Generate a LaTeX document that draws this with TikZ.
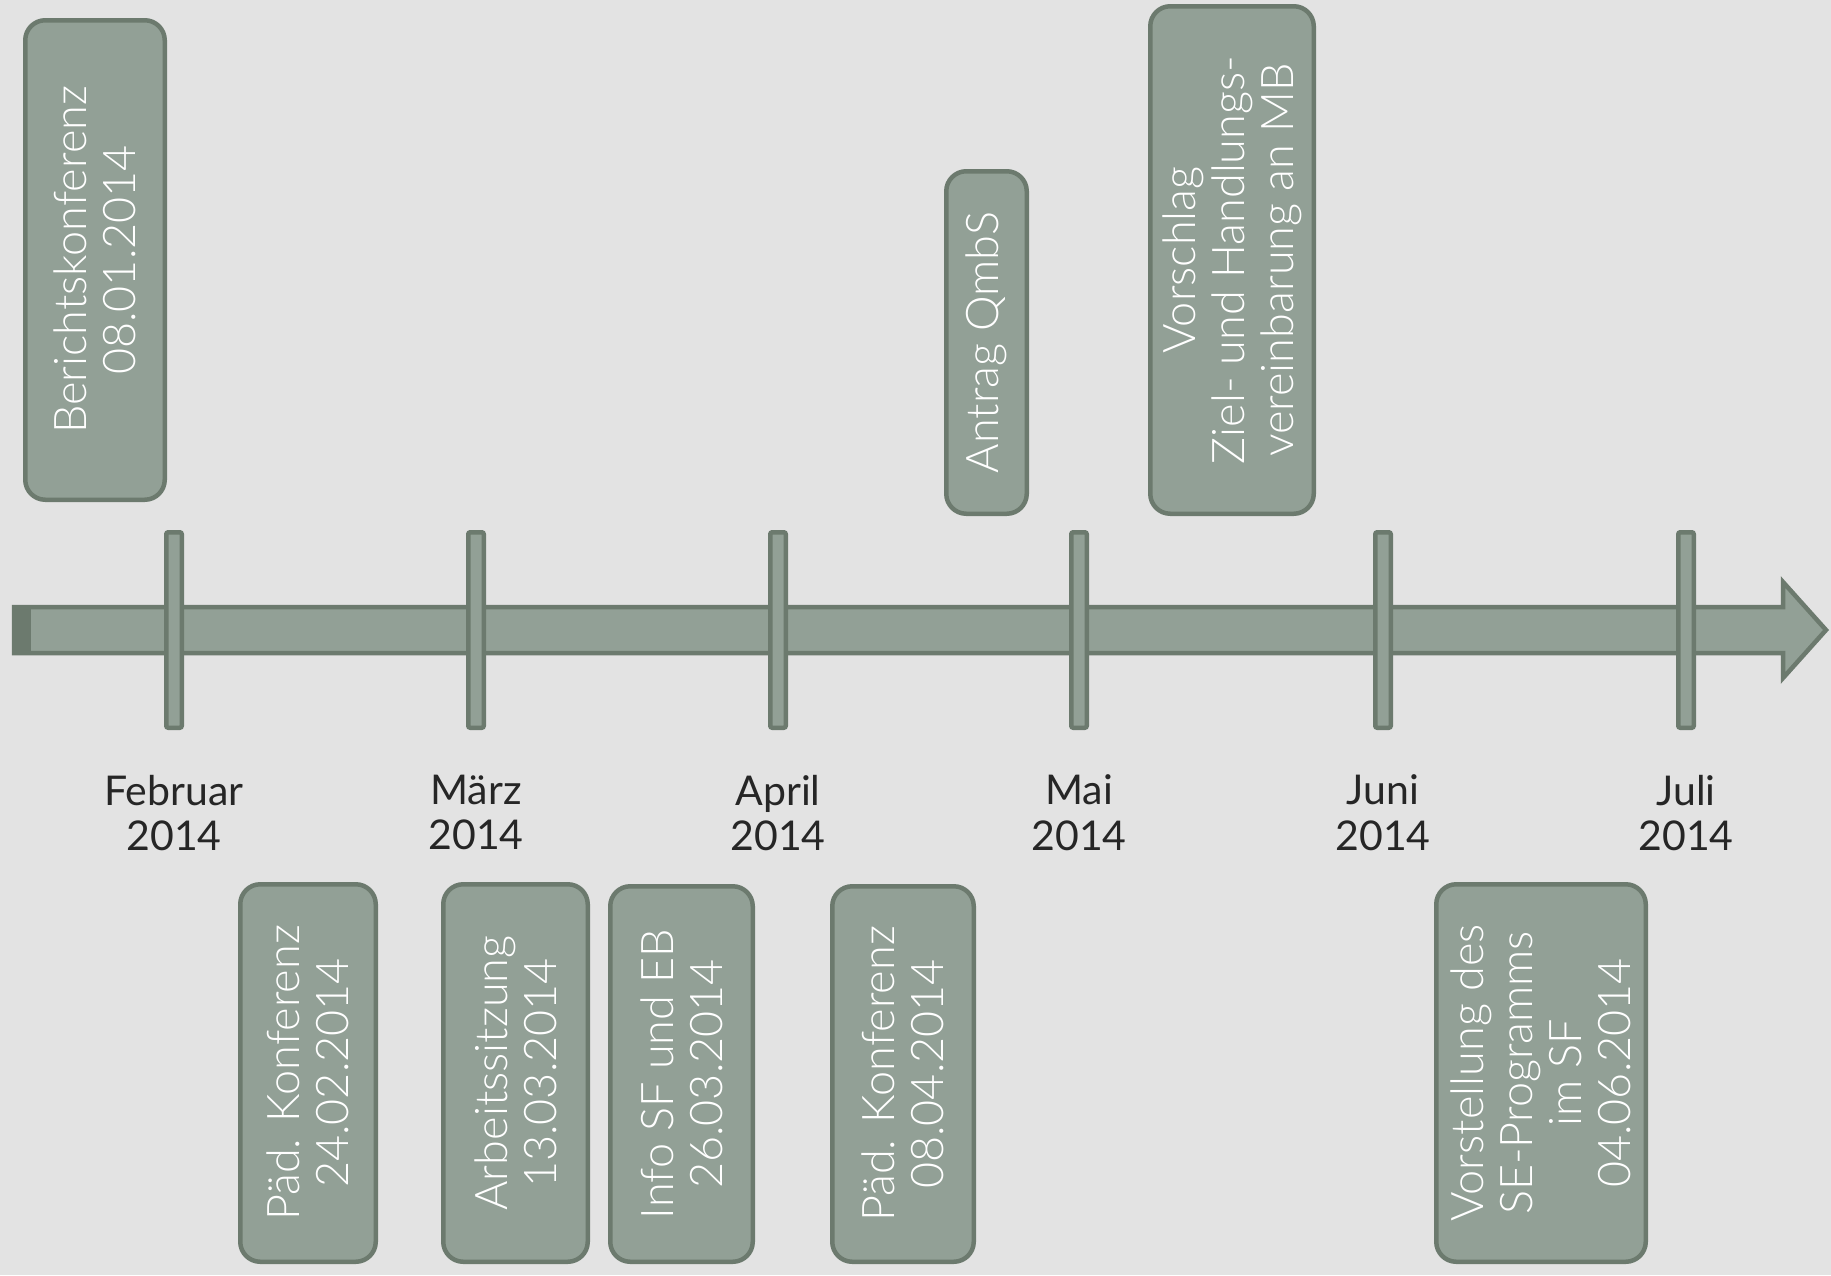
\documentclass[tikz,border=0pt]{standalone}
\usepackage{fontspec}
\setmainfont{Lato}
\newfontfamily\lightfont{Lato Light}
\usetikzlibrary{positioning}
\definecolor{boxfill}{RGB}{146,160,150}
\definecolor{boxline}{RGB}{108,122,110}
\definecolor{paper}{RGB}{227,227,227}

\begin{document}
\begin{tikzpicture}[
  x=0.5pt, y=-0.5pt,
  event/.style={draw=boxline, fill=boxfill, line width=2.25pt, rounded corners=10pt, rotate=90,
    align=center, text=white, inner sep=0pt, font=\lightfont\fontsize{22.5}{24.5}\selectfont},
  tick/.style={draw=boxline, fill=boxfill, line width=2.25pt, rounded corners=1pt,
    minimum width=7.75pt, minimum height=97.75pt, inner sep=0pt},
  month/.style={align=center, text=black!85, font=\fontsize{20.5}{22.75}\selectfont},
  node distance=19pt
]
\useasboundingbox[fill=paper] (0,0) rectangle (1831,1275);

% timeline arrow
\draw[draw=boxline, fill=boxfill, line width=2.25pt, line join=miter]
  (14,607) -- (1783,607) -- (1783,582) -- (1826,630) -- (1783,678) -- (1783,653) -- (14,653) -- cycle;
\fill[boxline] (12,605) rectangle (31,655);

% month ticks
\node[tick] (tfeb) at (174,630) {};
\node[tick] (tmar) at (476,630) {};
\node[tick] (tapr) at (778,630) {};
\node[tick] (tmay) at (1079,630) {};
\node[tick] (tjun) at (1383,630) {};
\node[tick] (tjul) at (1686,630) {};

\node[month, below=of tfeb] (mfeb) {Februar\\2014};
\node[month, below=of tmar] (mmar) {März\\2014};
\node[month, below=of tapr] (mapr) {April\\2014};
\node[month, below=of tmay] (mmay) {Mai\\2014};
\node[month, below=of tjun] (mjun) {Juni\\2014};
\node[month, below=of tjul] (mjul) {Juli\\2014};

% events above the line
\node[event, minimum width=239.75pt, minimum height=69.75pt] (bericht) at (95,260)
  {Berichtskonferenz\\08.01.2014};
\node[event, minimum width=171.25pt, minimum height=40.25pt] (qmbs) at (986.5,342.5)
  {Antrag QmbS};
\node[event, minimum width=253.75pt, minimum height=81.75pt] (vorschlag) at (1232,260)
  {Vorschlag\\Ziel- und Handlungs-\\vereinbarung an MB};

% events below the line
\node[event, minimum width=188.75pt, minimum height=67.75pt] (paed1) at (308,1073)
  {Päd. Konferenz\\24.02.2014};
\node[event, minimum width=188.75pt, minimum height=72.25pt] (arbeit) at (515.5,1073)
  {Arbeitssitzung\\13.03.2014};
\node[event, minimum width=187.75pt, minimum height=71.25pt] (info) at (681.5,1074)
  {Info SF und EB\\26.03.2014};
\node[event, minimum width=187.75pt, minimum height=70.75pt] (paed2) at (903,1074)
  {Päd. Konferenz\\08.04.2014};
\node[event, minimum width=188.75pt, minimum height=104.75pt] (vorstellung) at (1541,1073)
  {Vorstellung des\\SE-Programms\\im SF\\04.06.2014};

\end{tikzpicture}
\end{document}
